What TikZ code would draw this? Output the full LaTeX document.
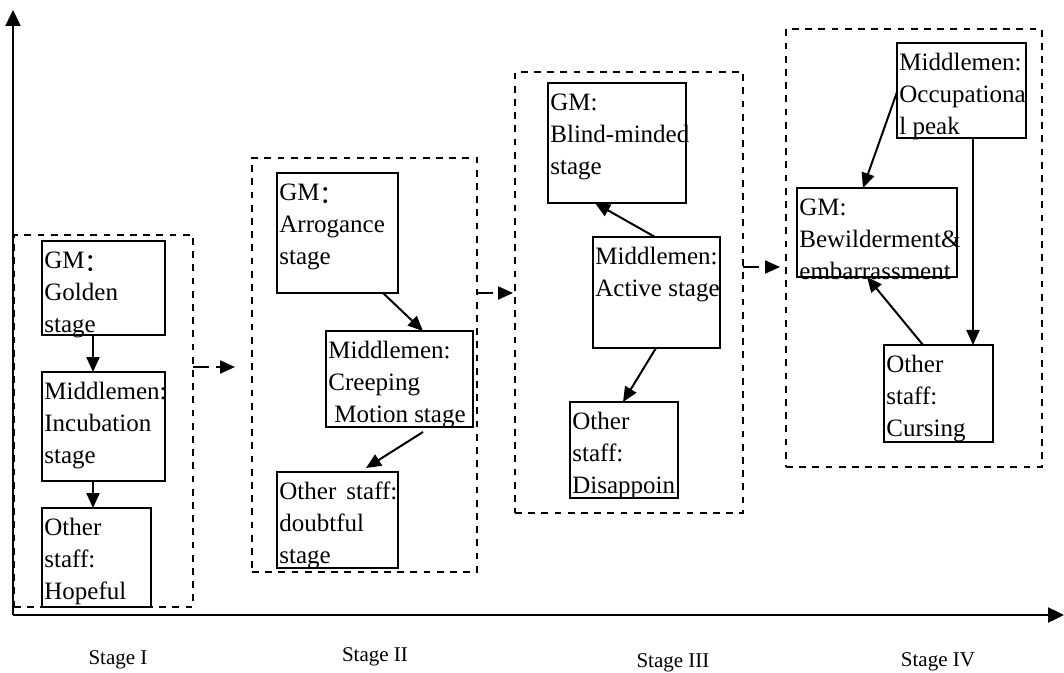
\documentclass[tikz,border=0pt]{standalone}
\usepackage{fontspec}
\setmainfont{Liberation Serif}
\newfontfamily\cjkfont{Noto Sans CJK SC}
\usetikzlibrary{arrows.meta,calc,fit}
\newcommand{\fwcolon}{\raisebox{-1.8pt}{\cjkfont ：}}
\begin{document}
\begin{tikzpicture}[x=0.5pt,y=-0.5pt,
  box/.style={draw, line width=1pt, inner sep=0pt, outer sep=0pt},
  lbl/.style={anchor=north west, inner xsep=1pt, inner ysep=2.3pt, align=left, font=\fontsize{12.5}{16}\selectfont},
  group/.style={draw, line width=1.2pt, dash pattern=on 3.4pt off 3.2pt, inner sep=0pt, outer sep=0pt},
  link/.style={line width=1pt, -{Triangle[length=7.5pt,width=6.5pt]}},
  flow/.style={line width=1pt, dash pattern=on 8pt off 3.5pt, -{Triangle[length=7.5pt,width=6.5pt]}},
  axis/.style={line width=1.2pt, -{Triangle[length=8pt,width=7.5pt]}},
  stagelbl/.style={font=\fontsize{10.5}{12}\selectfont, inner sep=0pt}
]
\useasboundingbox (0,0) rectangle (1064,673);

% axes
\coordinate (o) at (13,615);
\coordinate (ytop) at (13,10);
\coordinate (xend) at (1064,615);
\draw[axis] (o) -- (ytop);
\draw[axis] (o) -- (xend);

% group boxes
\node[group, fit={(14,235) (193,607)}] (d1) {};
\node[group, fit={(252,158) (477,572)}] (d2) {};
\node[group, fit={(515,72) (743,513)}] (d3) {};
\node[group, fit={(786,29) (1042,467)}] (d4) {};

% Stage I
\node[box, fit={(42,241) (165,335)}] (g1) {};
\node[lbl] (g1t) at (g1.north west) {\strut GM\fwcolon\\Golden\\stage};
\node[box, fit={(42,372) (165,481)}] (m1) {};
\node[lbl] (m1t) at (m1.north west) {\strut Middlemen:\\Incubation\\stage};
\node[box, fit={(42,508) (151,607)}] (o1) {};
\node[lbl] (o1t) at (o1.north west) {\strut Other\\staff:\\Hopeful};
\draw[link] ($(g1.south west)+(51,0)$) -- ($(m1.north west)+(51,0)$);
\draw[link] ($(m1.south west)+(51,0)$) -- ($(o1.north west)+(51,0)$);

% Stage II
\node[box, fit={(277,173) (398,293)}] (g2) {};
\node[lbl] (g2t) at (g2.north west) {\strut GM\fwcolon\\Arrogance\\stage};
\node[box, fit={(326,331) (473,427)}] (m2) {};
\node[lbl] (m2t) at (m2.north west) {\strut Middlemen:\\Creeping\\\hspace*{3pt}Motion stage};
\node[box, fit={(277,472) (398,568)}] (o2) {};
\node[lbl] (o2t) at (o2.north west) {\strut\makebox[59pt][s]{Other staff:}\\doubtful\\stage};
\draw[link] ($(g2.south west)+(106,0)$) -- ($(m2.north west)+(97,0)$);
\draw[link] ($(m2.south west)+(97,5)$) -- ($(o2.north west)+(89,-4)$);

% Stage III
\node[box, fit={(548,83) (686,203)}] (g3) {};
\node[lbl] (g3t) at (g3.north west) {\strut GM:\\Blind-minded\\stage};
\node[box, fit={(593,237) (720,348)}] (m3) {};
\node[lbl] (m3t) at (m3.north west) {\strut Middlemen:\\Active stage};
\node[box, fit={(570,402) (678,498)}] (o3) {};
\node[lbl] (o3t) at (o3.north west) {\strut Other\\staff:\\Disappoin};
\draw[link] ($(m3.north west)+(62,0)$) -- ($(g3.south west)+(47,0)$);
\draw[link] ($(m3.south west)+(63,0)$) -- ($(o3.north west)+(53,0)$);

% Stage IV
\node[box, fit={(897,43) (1026,138)}] (m4) {};
\node[lbl] (m4t) at (m4.north west) {\strut Middlemen:\\Occupationa\\l peak};
\node[box, fit={(797,188) (957,277)}] (g4) {};
\node[lbl] (g4t) at (g4.north west) {\strut GM:\\Bewilderment\&\\embarrassment};
\node[box, fit={(884,345) (993,442)}] (o4) {};
\node[lbl] (o4t) at (o4.north west) {\strut Other\\staff:\\Cursing};
\draw[link] ($(m4.north west)+(0,49)$) -- ($(g4.north west)+(66,0)$);
\draw[link] ($(m4.south west)+(76,0)$) -- ($(o4.north west)+(89,0)$);
\draw[link] ($(o4.north west)+(39,0)$) -- ($(g4.south west)+(70,0)$);

% flow between stages
\coordinate (a1) at ($(d1.north east)+(0,132)$);
\coordinate (a2) at ($(d2.north east)+(0,135)$);
\coordinate (a3) at ($(d3.north east)+(0,195)$);
\draw[flow, shorten >=8.5pt] (a1) -- (a1 -| d2.west);
\draw[flow, shorten >=1pt] (a2) -- (a2 -| d3.west);
\draw[flow, shorten >=3pt] (a3) -- (a3 -| d4.west);

% stage labels
\node[stagelbl] (s1) at (118,660) {Stage I};
\node[stagelbl] (s2) at (375,657) {Stage II};
\node[stagelbl] (s3) at (673,663) {Stage III};
\node[stagelbl] (s4) at (938,662) {Stage IV};
\end{tikzpicture}
\end{document}
